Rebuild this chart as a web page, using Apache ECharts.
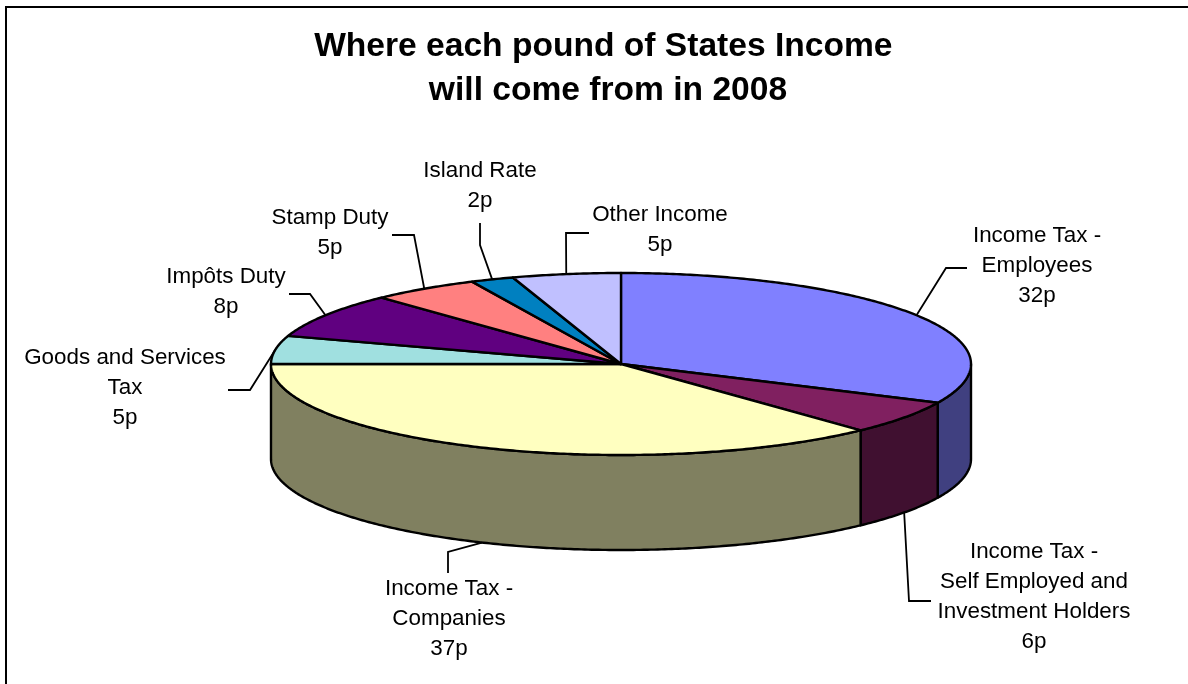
<!DOCTYPE html>
<html>
<head>
<meta charset="utf-8">
<style>html,body{margin:0;padding:0;background:#fff}#chart{width:1188px;height:684px}</style>
<script src="https://cdn.jsdelivr.net/npm/echarts@6/dist/echarts.min.js"></script>
</head>
<body>
<div id="chart"></div>
<script>
// Income sources, pence per pound
const sourceNames = [
  'Income Tax -\nEmployees',
  'Income Tax -\nSelf Employed and\nInvestment Holders',
  'Income Tax -\nCompanies',
  'Goods and Services\nTax',
  'Impôts Duty',
  'Stamp Duty',
  'Island Rate',
  'Other Income'
];
const pence = [32, 6, 37, 5, 8, 5, 2, 5];
const titleLines = ['Where each pound of States Income ', 'will come from in 2008'];

const topColors  = ['#8080FF', '#802060', '#FFFFC0', '#A0E0E0', '#600080', '#FF8080', '#0080C0', '#C0C0FF'];
const sideColors = ['#404080', '#401030', '#808060', '#507070', '#300040', '#804040', '#004060', '#606080'];

// Tilted disc geometry, in pixels
const disc = { cx: 621, cy: 364, rx: 350, ry: 91, depth: 95 };

// Label block top centre, then the leader's elbow and its free end
const labelLayout = [
  { x: 1037, y: 221, elbow: [946, 268], end: [967, 268] },
  { x: 1034, y: 537, elbow: [909, 601], end: [931, 601] },
  { x: 449,  y: 574, elbow: [448, 552], end: [448, 573] },
  { x: 125,  y: 343, elbow: [250, 390], end: [228, 390] },
  { x: 226,  y: 262, elbow: [310, 294], end: [289, 294] },
  { x: 330,  y: 203, elbow: [414, 235], end: [392, 235] },
  { x: 480,  y: 156, elbow: [480, 245], end: [480, 223] },
  { x: 660,  y: 200, elbow: [566, 233], end: [589, 233] }
];

const total = pence.reduce((a, b) => a + b, 0);
const starts = [];
pence.reduce((acc, v, i) => { starts[i] = acc; return acc + v; }, 0);

// Angle is measured clockwise from the top of the disc
const angleOf = share => (share / total) * Math.PI * 2;
const rimPoint = (a, drop) => [
  disc.cx + disc.rx * Math.sin(a),
  disc.cy - disc.ry * Math.cos(a) + (drop || 0)
];
const arcPoints = (a0, a1, drop) => {
  const steps = Math.max(2, Math.ceil((a1 - a0) / 0.01));
  const pts = [];
  for (let s = 0; s <= steps; s++) pts.push(rimPoint(a0 + (a1 - a0) * s / steps, drop));
  return pts;
};

const edge = { stroke: '#000', lineWidth: 2.4, lineJoin: 'round' };

function renderSide(params, api) {
  const i = params.dataIndex;
  const a0 = Math.max(angleOf(starts[i]), Math.PI / 2);
  const a1 = Math.min(angleOf(starts[i] + api.value(0)), Math.PI * 1.5);
  if (a1 <= a0) return { type: 'group', children: [] };
  const points = arcPoints(a0, a1, 0).concat(arcPoints(a0, a1, disc.depth).reverse());
  return { type: 'polygon', shape: { points }, style: { fill: sideColors[i], ...edge } };
}

function renderTop(params, api) {
  const i = params.dataIndex;
  const a0 = angleOf(starts[i]);
  const a1 = angleOf(starts[i] + api.value(0));
  const points = [[disc.cx, disc.cy]].concat(arcPoints(a0, a1, 0));
  return { type: 'polygon', shape: { points }, style: { fill: topColors[i], ...edge } };
}

function renderLabel(params, api) {
  const i = params.dataIndex;
  const v = api.value(0);
  const mid = angleOf(starts[i] + v / 2);
  const onFront = mid > Math.PI / 2 && mid < Math.PI * 1.5;
  const anchor = rimPoint(mid, onFront ? disc.depth : 0);
  const lay = labelLayout[i];
  return {
    type: 'group',
    children: [
      {
        type: 'polyline',
        shape: { points: [anchor, lay.elbow, lay.end] },
        style: { fill: 'none', stroke: '#000', lineWidth: 1.8 }
      },
      {
        type: 'text',
        x: lay.x,
        y: lay.y,
        style: {
          text: sourceNames[i] + '\n' + v + 'p',
          fill: '#000',
          font: '22.4px "Liberation Sans", Arial, sans-serif',
          lineHeight: 30,
          align: 'center',
          verticalAlign: 'top'
        }
      }
    ]
  };
}

const chart = echarts.init(document.getElementById('chart'), null, { renderer: 'canvas' });
const seriesData = pence.map((v, i) => ({ name: sourceNames[i], value: v }));
chart.setOption({
  animation: false,
  backgroundColor: '#fff',
  title: {
    text: titleLines.join('\n'),
    left: 603,
    top: 20,
    textAlign: 'center',
    textStyle: {
      fontFamily: '"Liberation Sans", Arial, sans-serif',
      fontWeight: 'bold',
      fontSize: 33.6,
      lineHeight: 44,
      color: '#000'
    }
  },
  // The chart area's border: only its top and left edges fall inside the page
  graphic: [
    { type: 'line', shape: { x1: 5, y1: 7, x2: 1188, y2: 7 }, style: { stroke: '#000', lineWidth: 2 }, silent: true },
    { type: 'line', shape: { x1: 6, y1: 7, x2: 6, y2: 684 }, style: { stroke: '#000', lineWidth: 2 }, silent: true }
  ],
  series: [
    { type: 'custom', coordinateSystem: 'none', renderItem: renderSide, data: seriesData, z: 2, silent: true },
    { type: 'custom', coordinateSystem: 'none', renderItem: renderTop, data: seriesData, z: 3, silent: true },
    { type: 'custom', coordinateSystem: 'none', renderItem: renderLabel, data: seriesData, z: 4, silent: true }
  ]
});
</script>
</body>
</html>
